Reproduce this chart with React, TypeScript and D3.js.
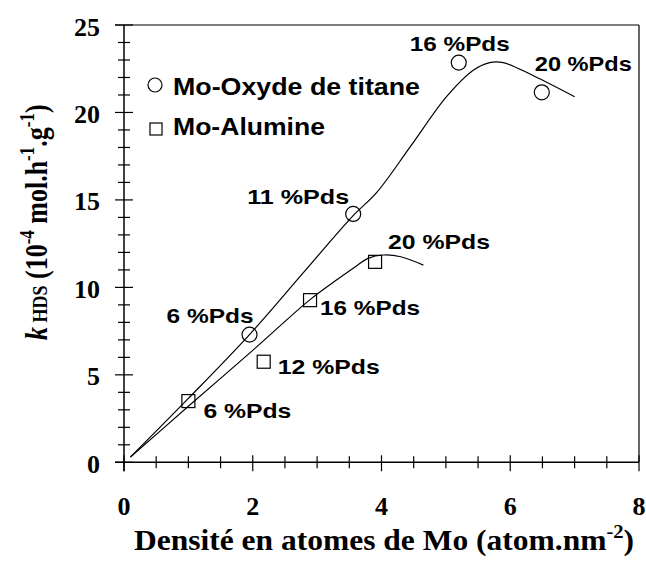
import React from 'react';
import * as d3 from 'd3';

// ---- data ----
const oxydeX = [1.95, 3.56, 5.2, 6.49];
const oxydeY = [7.3, 14.2, 22.85, 21.15];
const oxydeLabels = ['6 %Pds', '11 %Pds', '16 %Pds', '20 %Pds'];

const alumineX = [1.0, 2.17, 2.89, 3.9];
const alumineY = [3.5, 5.75, 9.27, 11.46];
const alumineLabels = ['6 %Pds', '12 %Pds', '16 %Pds', '20 %Pds'];

const oxydeCurveX = [0.1, 1.0, 1.95, 2.8, 3.56, 3.92, 4.44, 5.01, 5.42, 5.68, 5.89, 6.36, 7.0];
const oxydeCurveY = [0.3, 3.65, 7.3, 10.9, 14.1, 15.4, 18.0, 20.9, 22.4, 22.85, 22.85, 22.1, 20.9];

const alumineCurveX = [0.1, 1.0, 2.0, 2.89, 3.3, 3.6, 3.79, 4.03, 4.3, 4.65];
const alumineCurveY = [0.3, 3.2, 6.4, 9.3, 10.42, 11.2, 11.66, 11.85, 11.75, 11.27];

const xTicks = [0, 2, 4, 6, 8];
const yTicks = [0, 5, 10, 15, 20, 25];
const legendNames = ['Mo-Oxyde de titane', 'Mo-Alumine'];

// ---- layout (pixels) ----
const W = 646, H = 562;
const x = d3.scaleLinear().domain([0, 8]).range([124, 639]);
const y = d3.scaleLinear().domain([0, 25]).range([462.3, 25]);

const oxydeLabelOff = [
  { dx: -83, dy: -12, w: 87 },
  { dx: -106, dy: -10, w: 102 },
  { dx: -49, dy: -12, w: 100 },
  { dx: -7, dy: -21, w: 97 },
];
const alumineLabelOff = [
  { dx: 15, dy: 17, w: 88 },
  { dx: 14, dy: 12, w: 102 },
  { dx: 10, dy: 15, w: 100 },
  { dx: 13, dy: -13, w: 102 },
];

const SANS = 'Liberation Sans, Arial, sans-serif';
const SERIF = 'Liberation Serif, Times New Roman, serif';

export default function App() {
  const line = d3.line<[number, number]>()
    .x(d => x(d[0]))
    .y(d => y(d[1]))
    .curve(d3.curveCatmullRom.alpha(0.5));
  const oxydeCurve = oxydeCurveX.map((v, i) => [v, oxydeCurveY[i]] as [number, number]);
  const alumineCurve = alumineCurveX.map((v, i) => [v, alumineCurveY[i]] as [number, number]);

  const yMinor = d3.range(0, 26, 1);
  const xMinor = d3.range(0, 8.01, 0.5);
  const x0 = x(0), y0 = y(0);

  return (
    <svg width={W} height={H} style={{ position: 'absolute', left: 0, top: 0, background: '#fff' }}>
      <rect x={0} y={0} width={W} height={H} fill="#fff" />
      {/* frame */}
      <line x1={x0 - 9} x2={x(8)} y1={y(25)} y2={y(25)} stroke="#000" strokeWidth={1.2} />
      <line x1={x(8)} x2={x(8)} y1={y(25)} y2={y0} stroke="#000" strokeWidth={1.2} />
      {/* axes */}
      <line x1={x0} x2={x0} y1={y(25)} y2={y0 + 9} stroke="#000" strokeWidth={1.5} />
      <line x1={x0 - 9} x2={x(8)} y1={y0} y2={y0} stroke="#000" strokeWidth={1.5} />
      {yMinor.map(v => {
        const major = v % 5 === 0;
        return <line key={'yt' + v} x1={x0 - (major ? 9 : 6)} x2={x0 + (major ? 9 : 6)} y1={y(v)} y2={y(v)} stroke="#000" strokeWidth={1.2} />;
      })}
      {xMinor.map(v => {
        const major = Math.abs(v % 2) < 1e-6;
        return <line key={'xt' + v} x1={x(v)} x2={x(v)} y1={y0 - (major ? 7 : 6)} y2={y0 + (major ? 9 : 6)} stroke="#000" strokeWidth={1.2} />;
      })}
      {/* tick labels */}
      {yTicks.map(v => (
        <text key={'yl' + v} x={100} y={y(v) + 10.5} textAnchor="end" fontFamily={SERIF} fontWeight="bold" fontSize={26}>{v}</text>
      ))}
      {xTicks.map(v => (
        <text key={'xl' + v} x={x(v)} y={515} textAnchor="middle" fontFamily={SERIF} fontWeight="bold" fontSize={26}>{v}</text>
      ))}
      {/* axis titles */}
      <g transform="translate(134,550) scale(1.087,1)">
        <text x={0} y={0} fontFamily={SERIF} fontWeight="bold" fontSize={29}>
          Densité en atomes de Mo (atom.nm<tspan dy={-12} fontSize={19}>-2</tspan><tspan dy={12}>)</tspan>
        </text>
      </g>
      <g transform="translate(47,340) scale(1.2,1) rotate(-90)">
        <text x={0} y={0} fontFamily={SERIF} fontWeight="bold" fontSize={26}>
          <tspan fontStyle="italic">k</tspan>
          <tspan fontSize={18}> HDS</tspan>
          <tspan> (10</tspan>
          <tspan dy={-11} fontSize={17}>-4</tspan>
          <tspan dy={11}> mol.h</tspan>
          <tspan dy={-11} fontSize={17}>-1</tspan>
          <tspan dy={11}>.g</tspan>
          <tspan dy={-11} fontSize={17}>-1</tspan>
          <tspan dy={11}>)</tspan>
        </text>
      </g>
      {/* curves */}
      <path d={line(oxydeCurve) || ''} fill="none" stroke="#000" strokeWidth={1.2} />
      <path d={line(alumineCurve) || ''} fill="none" stroke="#000" strokeWidth={1.2} />
      {/* markers */}
      {oxydeX.map((v, i) => (
        <circle key={'oc' + i} cx={x(v)} cy={y(oxydeY[i])} r={7.5} fill="none" stroke="#000" strokeWidth={1.2} />
      ))}
      {alumineX.map((v, i) => (
        <rect key={'as' + i} x={x(v) - 6.5} y={y(alumineY[i]) - 6.5} width={13} height={13} fill="none" stroke="#000" strokeWidth={1.2} />
      ))}
      {/* point labels */}
      {oxydeLabels.map((t, i) => (
        <text key={'ol' + i} x={x(oxydeX[i]) + oxydeLabelOff[i].dx} y={y(oxydeY[i]) + oxydeLabelOff[i].dy}
          fontFamily={SANS} fontWeight="bold" fontSize={21} textLength={oxydeLabelOff[i].w} lengthAdjust="spacingAndGlyphs">{t}</text>
      ))}
      {alumineLabels.map((t, i) => (
        <text key={'al' + i} x={x(alumineX[i]) + alumineLabelOff[i].dx} y={y(alumineY[i]) + alumineLabelOff[i].dy}
          fontFamily={SANS} fontWeight="bold" fontSize={21} textLength={alumineLabelOff[i].w} lengthAdjust="spacingAndGlyphs">{t}</text>
      ))}
      {/* legend */}
      <circle cx={155} cy={85} r={7} fill="none" stroke="#000" strokeWidth={1.2} />
      <text x={173} y={95} fontFamily={SANS} fontWeight="bold" fontSize={23.5} textLength={247} lengthAdjust="spacingAndGlyphs">{legendNames[0]}</text>
      <rect x={150} y={123} width={12} height={12} fill="none" stroke="#000" strokeWidth={1.2} />
      <text x={173} y={135} fontFamily={SANS} fontWeight="bold" fontSize={23.5} textLength={152} lengthAdjust="spacingAndGlyphs">{legendNames[1]}</text>
    </svg>
  );
}
